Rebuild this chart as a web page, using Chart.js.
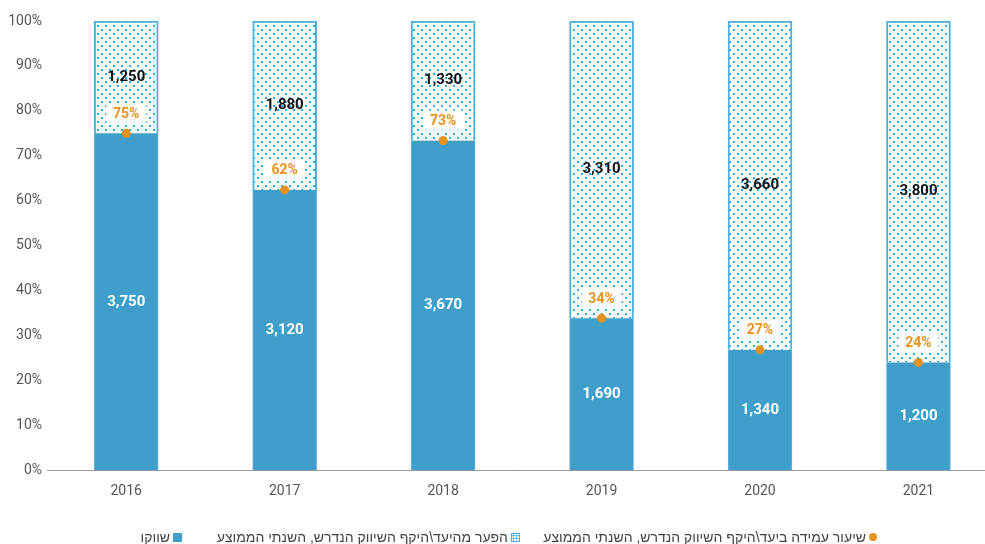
<!DOCTYPE html>
<html lang="he">
<head>
<meta charset="utf-8">
<script src="https://cdn.jsdelivr.net/npm/chart.js@4"></script>
<style>
  html, body { margin: 0; padding: 0; background: #fff; }
  #wrap { position: relative; width: 985px; height: 544px; }
  #chart { position: absolute; left: 0; top: 0; }
  .lg { position: absolute; top: 528px; direction: rtl; display: flex; align-items: center;
        font-family: 'Liberation Sans', 'DejaVu Sans', sans-serif; font-size: 14px; color: #444;
        white-space: nowrap; line-height: 18px; }
  .lg i { display: inline-block; margin-left: 3px; }
  .dot { width: 8px; height: 8px; border-radius: 50%; background: #e8921e; }
  .sq { width: 9px; height: 9px; background: #409fca; }
  .pat { width: 7px; height: 7px; border: 1px solid #4fb0da;
         background-color: #fff;
         background-image: radial-gradient(#2aa9e0 45%, transparent 50%);
         background-size: 3px 3px; }
</style>
</head>
<body>
<div id="wrap">
  <canvas id="chart" width="985" height="544"></canvas>
  <div class="lg" style="right:108px"><i class="dot"></i>שיעור עמידה ביעד\היקף השיווק הנדרש, השנתי הממוצע</div>
  <div class="lg" style="right:465px"><i class="pat"></i>הפער מהיעד\היקף השיווק הנדרש, השנתי הממוצע</div>
  <div class="lg" style="right:803px"><i class="sq"></i>שווקו</div>
</div>
<script>
const years = ['2016', '2017', '2018', '2019', '2020', '2021'];
const marketed = [3750, 3120, 3670, 1690, 1340, 1200];
const gap = [1250, 1880, 1330, 3310, 3660, 3800];
const rate = [75, 62, 73, 34, 27, 24];
const yTicks = [0, 10, 20, 30, 40, 50, 60, 70, 80, 90, 100];

const BLUE = '#409fca';
const ORANGE = '#e8921e';

function makeDots() {
  const c = document.createElement('canvas');
  c.width = 8;
  c.height = 8;
  const g = c.getContext('2d');
  g.fillStyle = '#fff';
  g.fillRect(0, 0, 8, 8);
  g.fillStyle = '#29abe2';
  g.fillRect(1, 1, 2, 2);
  g.fillRect(5, 5, 2, 2);
  return g.createPattern(c, 'repeat');
}

// share of the yearly total, in percent
const share = (arr) => arr.map((v, i) => ({ x: i, y: v / (marketed[i] + gap[i]) * 100 }));

const labelPlugin = {
  id: 'barLabels',
  afterDatasetsDraw(chart) {
    const ctx = chart.ctx;
    ctx.save();
    ctx.textAlign = 'center';
    ctx.textBaseline = 'middle';
    ctx.font = 'bold 15px Roboto';

    chart.getDatasetMeta(0).data.forEach((el, i) => {
      ctx.fillStyle = '#fff';
      ctx.fillText(marketed[i].toLocaleString('en-US'), el.x, (el.y + el.base) / 2);
    });
    chart.getDatasetMeta(1).data.forEach((el, i) => {
      ctx.fillStyle = '#111';
      ctx.fillText(gap[i].toLocaleString('en-US'), el.x, (el.y + el.base) / 2);
    });

    ctx.font = 'bold 14px Roboto';
    chart.getDatasetMeta(2).data.forEach((el, i) => {
      const y = el.y - 20;
      ctx.fillStyle = '#fff';
      ctx.fillRect(el.x - 20, y - 10, 40, 20);
      ctx.fillStyle = ORANGE;
      ctx.fillText(rate[i] + '%', el.x, y + 1);
    });
    ctx.restore();
  }
};

new Chart(document.getElementById('chart'), {
  type: 'bar',
  data: {
    datasets: [
      {
        label: 'שווקו',
        data: share(marketed),
        backgroundColor: BLUE,
        borderColor: '#6ab6dc',
        borderWidth: { left: 1, right: 1, top: 0, bottom: 0 },
        barThickness: 64
      },
      {
        label: 'הפער מהיעד\\היקף השיווק הנדרש, השנתי הממוצע',
        data: share(gap),
        backgroundColor: makeDots(),
        borderColor: '#4fb0da',
        borderWidth: 2,
        borderSkipped: 'bottom',
        barThickness: 64
      },
      {
        type: 'line',
        label: 'שיעור עמידה ביעד\\היקף השיווק הנדרש, השנתי הממוצע',
        data: share(marketed),
        showLine: false,
        pointRadius: 4.5,
        pointBackgroundColor: ORANGE,
        pointBorderWidth: 0,
        order: -1
      }
    ]
  },
  options: {
    responsive: false,
    animation: false,
    layout: { autoPadding: false, padding: { top: 21, bottom: 31, left: 0, right: 0 } },
    plugins: {
      legend: { display: false },
      tooltip: { enabled: false }
    },
    scales: {
      x: {
        type: 'linear',
        stacked: true,
        offset: false,
        min: -0.5,
        max: 5.42,
        afterBuildTicks: (scale) => { scale.ticks = years.map((y, i) => ({ value: i })); },
        afterFit: (scale) => { scale.paddingRight = 0; scale.paddingLeft = 0; },
        ticks: {
          autoSkip: false,
          padding: 13,
          color: '#555',
          font: { family: 'Roboto', size: 14 },
          callback: (value) => years[value] || ''
        },
        grid: { display: false, drawTicks: false },
        border: { display: true, color: '#9a9a9a', width: 1 }
      },
      y: {
        stacked: true,
        min: 0,
        max: 100,
        afterBuildTicks: (scale) => { scale.ticks = yTicks.map(v => ({ value: v })); },
        afterFit: (scale) => { scale.width = 47; },
        ticks: {
          padding: 5,
          color: '#555',
          font: { family: 'Roboto', size: 14 },
          callback: (value) => value + '%'
        },
        grid: { display: false, drawTicks: false },
        border: { display: false }
      }
    }
  },
  plugins: [labelPlugin]
});
</script>
</body>
</html>
